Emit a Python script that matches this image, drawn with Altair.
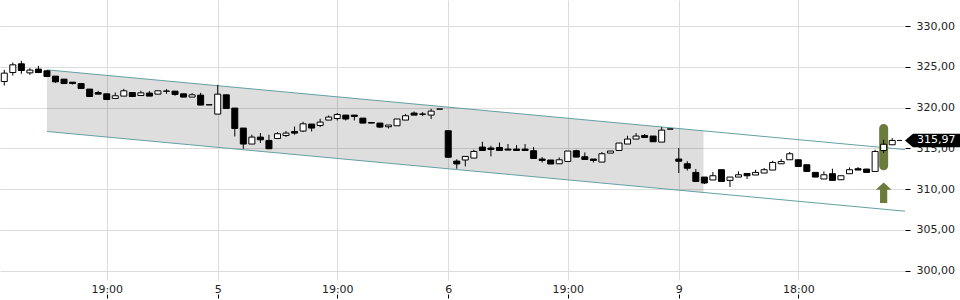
import altair as alt
import pandas as pd

# ---- candle data (15-min candles, index 0..104) ----
opens = [323.20, 324.30, 325.37, 324.26, 324.72, 324.51, 323.86, 323.49, 323.12, 322.95,
         322.27, 321.85, 321.69, 321.12, 321.41, 321.85, 321.48, 321.78, 321.65, 322.03,
         322.02, 321.69, 321.29, 321.53, 320.34, 319.20, 321.57, 319.94, 317.49, 315.53,
         316.38, 315.97, 316.21, 316.58, 317.07, 317.12, 317.98, 317.81, 318.47, 318.66,
         319.08, 319.08, 318.71, 318.17, 318.10, 317.65, 317.77, 318.47, 319.33, 319.21,
         319.08, 319.82, 317.16, 313.44, 313.57, 313.81, 315.16, 315.04, 315.11, 314.91,
         314.91, 314.91, 314.71, 313.69, 313.57, 313.11, 313.39, 314.71, 313.97, 313.69,
         313.32, 314.42, 314.74, 315.53, 316.14, 316.58, 316.51, 315.77, 317.37, 313.69,
         313.11, 312.05, 311.48, 311.12, 312.38, 311.07, 311.48, 311.92, 311.73, 311.97,
         312.34, 313.11, 313.60, 313.60, 312.99, 312.05, 311.24, 311.89, 311.15, 311.89,
         312.50, 312.46, 312.17, 314.74, 315.44]
highs = [324.63, 325.53, 325.74, 324.84, 325.12, 324.60, 323.86, 323.49, 323.12, 322.95,
         322.27, 322.06, 321.69, 321.85, 322.30, 321.85, 322.06, 322.02, 322.06, 322.27,
         322.02, 321.69, 321.78, 321.81, 320.34, 322.79, 321.57, 319.94, 317.49, 316.67,
         316.87, 316.67, 317.00, 317.12, 317.68, 318.26, 317.98, 318.63, 319.03, 319.33,
         319.08, 319.08, 318.71, 318.17, 318.10, 317.86, 318.60, 319.20, 319.52, 319.45,
         319.85, 319.82, 317.16, 313.66, 314.01, 314.83, 315.81, 315.32, 315.72, 315.53,
         315.40, 315.53, 315.16, 313.93, 313.57, 313.89, 314.67, 314.83, 314.50, 313.69,
         314.55, 314.67, 315.65, 316.54, 316.87, 316.75, 316.51, 317.61, 317.37, 315.04,
         313.42, 312.46, 311.48, 312.10, 312.38, 311.48, 312.17, 311.92, 312.38, 312.59,
         313.48, 313.69, 314.55, 313.60, 312.99, 312.05, 312.17, 312.50, 311.64, 312.66,
         312.71, 312.46, 314.83, 316.05, 316.26]
lows = [322.71, 323.93, 324.14, 324.02, 324.30, 323.80, 323.04, 322.95, 322.83, 322.34,
        321.36, 321.65, 320.99, 321.12, 321.41, 321.36, 321.48, 321.41, 321.65, 321.69,
        321.45, 321.29, 321.29, 320.31, 320.34, 319.20, 319.89, 316.46, 314.95, 315.53,
        315.65, 314.95, 316.21, 316.38, 316.67, 317.00, 317.07, 317.61, 318.47, 318.42,
        318.42, 318.42, 318.10, 318.10, 317.49, 317.44, 317.77, 318.47, 319.08, 318.96,
        318.60, 319.82, 313.91, 312.50, 312.78, 313.81, 314.74, 314.01, 314.74, 314.79,
        314.74, 314.74, 313.76, 313.27, 313.08, 313.11, 313.39, 313.93, 313.64, 313.27,
        313.32, 314.42, 314.74, 315.53, 316.14, 316.34, 315.81, 315.77, 317.37, 311.97,
        312.28, 310.94, 310.62, 311.12, 310.94, 310.26, 311.48, 311.24, 311.73, 311.97,
        312.34, 313.11, 313.60, 312.78, 312.17, 311.48, 311.24, 311.07, 311.15, 311.89,
        312.34, 312.05, 312.17, 314.42, 315.44]
closes = [324.23, 325.25, 324.55, 324.60, 324.30, 323.81, 323.16, 322.95, 322.95, 322.34,
          321.36, 321.65, 320.99, 321.45, 322.06, 321.36, 321.81, 321.41, 322.06, 322.01,
          321.61, 321.29, 321.57, 320.31, 320.34, 321.65, 319.89, 317.44, 315.53, 316.38,
          316.05, 314.95, 316.79, 316.87, 316.87, 318.01, 317.49, 318.22, 318.84, 319.15,
          318.60, 318.91, 318.10, 318.10, 317.61, 317.86, 318.60, 319.00, 319.08, 319.19,
          319.57, 319.82, 313.91, 313.09, 314.01, 314.62, 314.74, 314.87, 314.74, 314.79,
          314.74, 314.74, 313.76, 313.52, 313.08, 313.60, 314.67, 313.93, 313.64, 313.52,
          314.34, 314.67, 315.65, 316.14, 316.51, 316.34, 315.81, 317.24, 317.37, 313.42,
          312.56, 310.94, 310.75, 311.64, 310.94, 311.48, 311.76, 311.64, 312.05, 312.38,
          313.27, 313.39, 314.34, 312.78, 312.17, 311.48, 311.76, 311.07, 311.64, 312.38,
          312.34, 312.05, 314.62, 315.50, 315.97]

# ---- axis ticks ----
tick_idx = [12, 25, 39, 52, 66, 79, 93]
tick_labels = ["19:00", "5", "19:00", "6", "19:00", "9", "18:00"]
y_ticks = [300, 305, 310, 315, 320, 325, 330]

# ---- trend channel ----
channel_x1 = [5, 5]
channel_x2 = [105.5, 105.5]
channel_y1 = [324.63, 317.07]
channel_y2 = [314.85, 307.29]
shade_x = [5, 81.9]
shade_upper = [324.63, 317.15]
shade_lower = [317.07, 309.59]

# ---- signal ----
signal_idx = [103]
signal_top = [318.0]
signal_bottom = [312.3]
arrow_price = [309.56]

candles = pd.DataFrame({
    "idx": list(range(len(opens))),
    "open": opens, "high": highs, "low": lows, "close": closes,
})
candles["dir"] = ["up" if c >= o else "down" for o, c in zip(opens, closes)]

shade = pd.DataFrame({"x": shade_x, "up": shade_upper, "lo": shade_lower})
channel = pd.DataFrame({"x": channel_x1, "x2": channel_x2, "y": channel_y1, "y2": channel_y2})
signal = pd.DataFrame({"idx": signal_idx, "top": signal_top, "bot": signal_bottom, "arrow": arrow_price})
last = pd.DataFrame({"price": [closes[-1]],
                     "label": [f"{closes[-1]:.2f}".replace(".", ",")]})

xscale = alt.Scale(domain=[-0.5, 105.5], nice=False, zero=False, padding=0)
yscale = alt.Scale(domain=[298.85, 333.2], nice=False, zero=False, padding=0)

label_expr = ""
for i, l in zip(tick_idx, tick_labels):
    label_expr += f"datum.value == {i} ? '{l}' : "
label_expr += "''"

x_label_axis = alt.Axis(orient="bottom", values=tick_idx, labelExpr=label_expr, title=None,
                        ticks=False, domain=False, grid=True, gridColor="#dcdcdc",
                        labelPadding=3, labelFontSize=11, labelColor="#222",
                        labelFont="DejaVu Sans", labelOverlap=False, labelFlush=False, zindex=0)
x_tick_axis = alt.Axis(orient="bottom", values=tick_idx, labels=False, title=None,
                       grid=False, domain=False, ticks=True, tickSize=4, tickColor="#000",
                       offset=14, zindex=0)
y_axis = alt.Axis(orient="right", values=y_ticks,
                  labelExpr="replace(format(datum.value, '.2f'), '.', ',')",
                  title=None, tickSize=5, tickColor="#000", labelPadding=6, domain=False,
                  grid=True, gridColor="#dcdcdc", labelFont="DejaVu Sans", labelFontSize=11,
                  labelColor="#222", zindex=0)


def Y(field):
    return alt.Y(field, type="quantitative", scale=yscale, axis=y_axis)


shade_layer = alt.Chart(shade).mark_area(color="black", opacity=0.13).encode(
    x=alt.X("x:Q", scale=xscale, axis=x_label_axis),
    y=Y("up"),
    y2="lo:Q",
)

channel_layer = alt.Chart(channel).mark_rule(color="#64a0a4", strokeWidth=1).encode(
    x=alt.X("x:Q", scale=xscale, axis=None),
    x2="x2:Q",
    y=Y("y"),
    y2="y2:Q",
)

pill_layer = alt.Chart(signal).mark_bar(size=9, cornerRadius=4.5, color="#6b7b3b").encode(
    x=alt.X("idx:Q", scale=xscale, axis=None),
    y=Y("top"),
    y2="bot:Q",
)

wick_layer = alt.Chart(candles).mark_rule(color="black", strokeWidth=1).encode(
    x=alt.X("idx:Q", scale=xscale, axis=x_tick_axis),
    y=Y("low"),
    y2="high:Q",
)

body_layer = alt.Chart(candles).mark_bar(size=6, stroke="black", strokeWidth=1).encode(
    x=alt.X("idx:Q", scale=xscale, axis=None),
    y=Y("open"),
    y2="close:Q",
    fill=alt.Fill("dir:N", scale=alt.Scale(domain=["up", "down"], range=["white", "black"]),
                  legend=None),
)

arrow_path = "M0,-1 L0.76,-0.29 L0.35,-0.29 L0.35,1 L-0.35,1 L-0.35,-0.29 L-0.76,-0.29 Z"
arrow_layer = alt.Chart(signal).mark_point(shape=arrow_path, filled=True, size=424,
                                           color="#6b7b3b", opacity=1, strokeWidth=0).encode(
    x=alt.X("idx:Q", scale=xscale, axis=None),
    y=Y("arrow"),
)

dash_layer = alt.Chart(last).mark_rule(color="black", strokeWidth=1).encode(
    x=alt.value(897), x2=alt.value(902), y=Y("price"),
)

box_path = "M-1,0 L-0.71,-0.244 L1,-0.244 L1,0.244 L-0.71,0.244 Z"
box_layer = alt.Chart(last).mark_point(shape=box_path, filled=True, size=3025,
                                       color="black", opacity=1, strokeWidth=0).encode(
    x=alt.value(932.5), y=Y("price"),
)

text_layer = alt.Chart(last).mark_text(align="left", baseline="middle", color="white",
                                       font="DejaVu Sans", fontSize=11).encode(
    x=alt.value(917), y=Y("price"), text="label:N",
)

chart = alt.layer(
    shade_layer, channel_layer, pill_layer, wick_layer, body_layer,
    arrow_layer, dash_layer, box_layer, text_layer,
).resolve_axis(x="independent").properties(
    width=905, height=280,
    autosize=alt.AutoSizeParams(type="none"),
    padding={"left": 0, "right": 55, "top": 0, "bottom": 20},
    background="white",
).configure_view(stroke=None)

chart.save("out.html", embed_options={"renderer": "svg", "actions": False})
